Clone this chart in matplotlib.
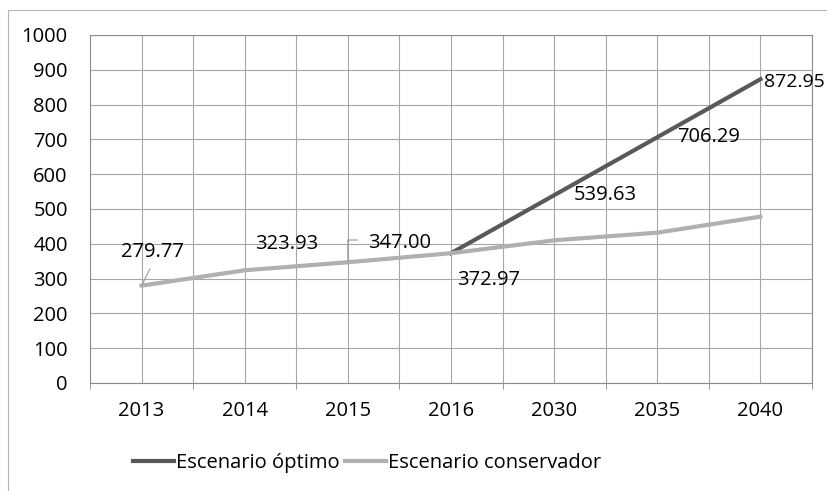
import numpy as np
import matplotlib.pyplot as plt
from matplotlib.patches import Rectangle
from matplotlib.transforms import ScaledTranslation

plt.rcParams['font.family'] = ['Open Sans', 'DejaVu Sans']

anios = ['2013', '2014', '2015', '2016', '2030', '2035', '2040']
optimo = [np.nan, np.nan, np.nan, 372.97, 539.63, 706.29, 872.95]
conservador = [279.77, 323.93, 347.00, 372.97, 410, 432, 478]

# etiquetas de datos (texto, indice, valor, offset en puntos)
etiquetas = [
    ('279.77', 0, conservador[0], (8, 24)),
    ('323.93', 1, conservador[1], (30, 19)),
    ('347.00', 2, conservador[2], (37, 14)),
    ('372.97', 3, conservador[3], (27, -19)),
    ('539.63', 4, optimo[4], (37, 0)),
    ('706.29', 5, optimo[5], (37, 0)),
]
fs = 14.5

fig = plt.figure(figsize=(8.27, 4.91), dpi=100)
ax = fig.add_axes([90/827, 108/491, 722/827, 348/491])

x = np.arange(len(anios))
ax.plot(x, optimo, color='#595959', lw=3, label='Escenario óptimo', zorder=3)
ax.plot(x, conservador, color='#b0b0b0', lw=3, label='Escenario conservador', zorder=3)

ax.set_xlim(-0.5, len(anios) - 0.5)
ax.set_ylim(0, 1000)
ax.set_yticks(np.arange(0, 1001, 100))
ax.set_xticks(x)
ax.set_xticklabels(anios)
ax.set_xticks(np.arange(-0.5, len(anios), 1), minor=True)

ax.grid(True, which='both', color='#a6a6a6', lw=0.8)
ax.set_axisbelow(True)
ax.tick_params(axis='both', which='major', length=0, labelsize=fs, colors='black')
ax.tick_params(axis='x', which='major', pad=13)
ax.tick_params(axis='y', which='major', pad=16)
ax.tick_params(axis='x', which='minor', length=4, color='#888888')
for s in ax.spines.values():
    s.set_color('#8c8c8c')
    s.set_linewidth(0.8)

for txt, i, v, off in etiquetas:
    ax.annotate(txt, (i, v), xytext=off, textcoords='offset points',
                ha='center', va='center', fontsize=fs)

# lineas guia
guia = dict(arrowstyle='-', color='#999999', lw=0.8, shrinkA=0, shrinkB=0)
ax.annotate('', (0, conservador[0]), xytext=(6, 12), textcoords='offset points', arrowprops=guia)
ax.annotate('', (2, conservador[2]), xytext=(0, 16), textcoords='offset points', arrowprops=guia)
ax.annotate('', (2, conservador[2]), xycoords=ax.transData + ScaledTranslation(0, 16/72, fig.dpi_scale_trans),
            xytext=(7, 0), textcoords='offset points', arrowprops=guia)

ax.annotate('872.95', (6, optimo[6]), xytext=(2.5, -2), textcoords='offset points',
            ha='left', va='center', fontsize=fs - 0.5, annotation_clip=False)

fig.legend(loc='center', bbox_to_anchor=(367/827, 28/491), ncol=2, frameon=False,
           fontsize=fs, handlelength=2.0, handletextpad=0.1, columnspacing=0.3)

fig.add_artist(Rectangle((8/827, -0.1), 1.1, (481/491) + 0.1, transform=fig.transFigure,
                         fill=False, edgecolor='#b5b5b5', lw=0.8))

fig.savefig('out.png', dpi=100)
